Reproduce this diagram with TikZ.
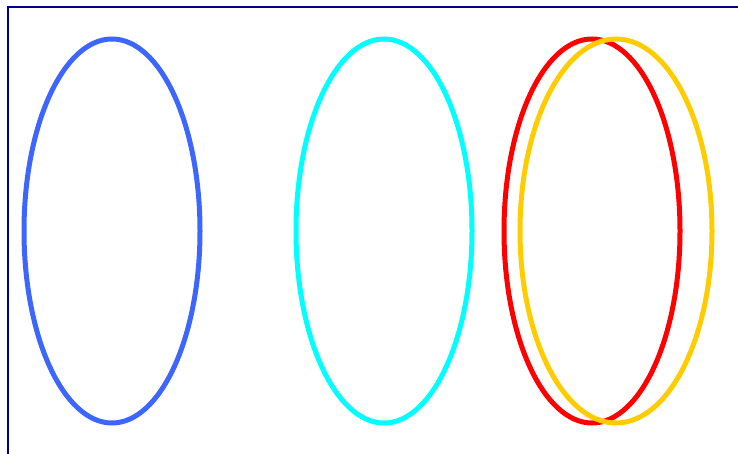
\documentclass[tikz,border=0pt]{standalone}
\usepackage{tikz}

\definecolor{ovalblue}{RGB}{61,102,255}
\definecolor{ovalcyan}{RGB}{0,255,255}
\definecolor{ovalred}{RGB}{255,0,0}
\definecolor{ovalyellow}{RGB}{255,204,0}
\definecolor{framenavy}{RGB}{0,0,139}

\begin{document}
\begin{tikzpicture}[x=1pt,y=-1pt,
  oval/.style={line width=5pt}]

\useasboundingbox (0,0) rectangle (738,454);

%--------------------
% 枠
%--------------------
\draw[framenavy,line width=2pt] (8,470) -- (8,7) -- (760,7);

%--------------------
% 楕円
%--------------------
\coordinate (P1) at (112,231);
\coordinate (P2) at (384,231);
\coordinate (P3) at (592,231);
\coordinate (P4) at (616,231);

\draw[oval,ovalblue]   (P1) ellipse [x radius=88, y radius=192];
\draw[oval,ovalcyan]   (P2) ellipse [x radius=88, y radius=192];
\draw[oval,ovalred]    (P3) ellipse [x radius=88, y radius=192];
\draw[oval,ovalyellow] (P4) ellipse [x radius=96, y radius=192];

\end{tikzpicture}
\end{document}
